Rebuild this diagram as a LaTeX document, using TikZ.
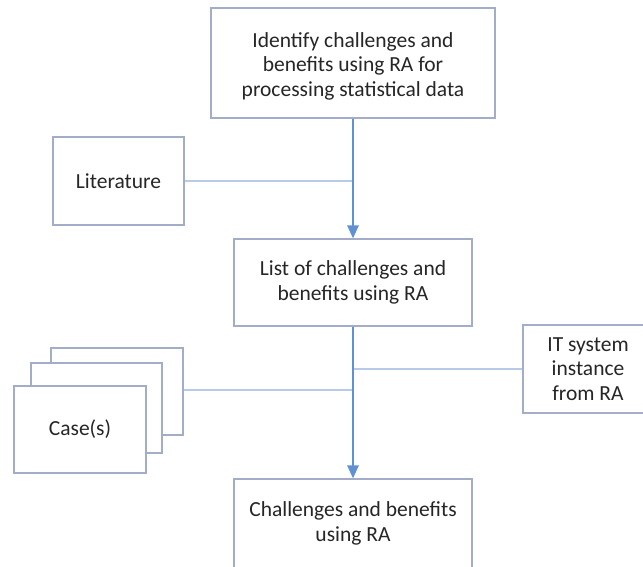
\documentclass[tikz,border=0pt]{standalone}
\usepackage{fontspec}
\setmainfont{Carlito}
\usetikzlibrary{arrows.meta}
\definecolor{boxline}{HTML}{A3ADC8}
\definecolor{linkline}{HTML}{B7CBE6}
\definecolor{arrowc}{HTML}{5E92D2}
\definecolor{txt}{HTML}{262626}
\tikzset{
  box/.style={draw=boxline, line width=1.1pt, fill=white, align=center, inner sep=0pt,
    font=\fontsize{21.5}{24.5}\selectfont, text=txt},
  link/.style={draw=linkline, line width=1.1pt},
  flow/.style={draw=arrowc, line width=2.6pt, -{Triangle[length=13pt,width=11pt]}}
}
\begin{document}
\begin{tikzpicture}[x=1pt,y=-1pt]
\useasboundingbox (0,0) rectangle (643,566);
\clip (0,0) rectangle (643,566);
\node[box, minimum width=284pt, minimum height=110pt] (top) at (353,63) {};
\node[font=\fontsize{21.5}{24.5}\selectfont, text=txt, align=center, inner sep=0pt] (toptext) at (353,66)
  {Identify challenges and\\benefits using RA for\\processing statistical data};
\node[box, minimum width=131pt, minimum height=88pt] (lit) at (118.5,181) {Literature};
\node[box, minimum width=238pt, minimum height=87pt] (mid) at (353,282.5)
  {List of challenges and\\benefits using RA};
\node[box, minimum width=130pt, minimum height=88pt] (it) at (588,369)
  {IT system\\instance\\from RA};
\node[box, minimum width=238pt, minimum height=89pt] (bot) at (353,523.5)
  {Challenges and benefits\\using RA};
\node[box, minimum width=132pt, minimum height=87pt] (caseC) at (117,391.5) {};
\node[box, minimum width=131pt, minimum height=90pt] (caseB) at (96.5,408) {};
\node[box, minimum width=132pt, minimum height=87pt] (caseA) at (80,429.5) {Case(s)};
\coordinate (j1) at (353,181);
\coordinate (j2) at (353,390);
\coordinate (j3) at (353,369);
\draw[link] (lit.east) -- (j1);
\draw[link] (caseC.east |- j2) -- (j2);
\draw[link] (it.west) -- (j3);
\draw[flow] (top.south) -- (mid.north);
\draw[flow] (mid.south) -- (bot.north);
\end{tikzpicture}
\end{document}
